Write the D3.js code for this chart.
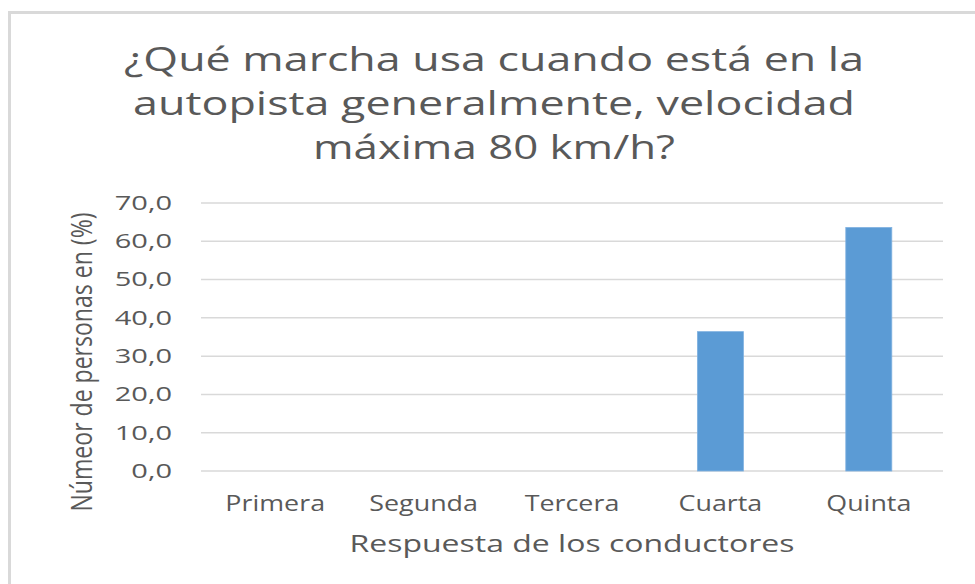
<!DOCTYPE html>
<html>
<head>
<meta charset="utf-8">
<script src="https://cdn.jsdelivr.net/npm/d3@7"></script>
<style>
  body { margin: 0; background: #fff; }
  text { font-family: "Open Sans", sans-serif; fill: #595959; }
</style>
</head>
<body>
<div class="chart"></div>
<script>
// data
var categories = ["Primera", "Segunda", "Tercera", "Cuarta", "Quinta"];
var values = [0, 0, 0, 36.4, 63.6];
var yTicks = [0, 10, 20, 30, 40, 50, 60, 70];
var titleLines = ["¿Qué marcha usa cuando está en la", "autopista generalmente, velocidad", "máxima 80 km/h?"];

var svgWidth = 975;
var svgHeight = 584;

var margin = { top: 203, right: 32, bottom: 113, left: 201 };
var width = svgWidth - margin.left - margin.right;
var height = svgHeight - margin.top - margin.bottom;

var svg = d3.select(".chart")
  .append("svg")
  .attr("width", svgWidth)
  .attr("height", svgHeight);

// chart frame
svg.append("rect")
  .attr("x", 9.5)
  .attr("y", 12.5)
  .attr("width", 1000)
  .attr("height", 700)
  .attr("fill", "none")
  .attr("stroke", "#d9d9d9")
  .attr("stroke-width", 3);

var chartGroup = svg.append("g")
  .attr("transform", `translate(${margin.left}, ${margin.top})`);

var xScale = d3.scaleBand()
  .domain(categories)
  .range([0, width])
  .paddingInner(0.69)
  .paddingOuter(0.345);

var yScale = d3.scaleLinear()
  .domain([0, 70])
  .range([height, 0]);

// stretch text sideways a bit, the original font is wider
function widen(sel, k) {
  sel.each(function() {
    var len = this.getComputedTextLength();
    d3.select(this)
      .attr("textLength", len * k)
      .attr("lengthAdjust", "spacingAndGlyphs");
  });
}

// gridlines
chartGroup.append("g")
  .selectAll("line")
  .data(yTicks)
  .enter()
  .append("line")
  .attr("x1", 0)
  .attr("x2", width)
  .attr("y1", d => yScale(d))
  .attr("y2", d => yScale(d))
  .attr("stroke", "#d9d9d9")
  .attr("stroke-width", 1.5);

// y axis labels
var leftAxis = d3.axisLeft(yScale)
  .tickValues(yTicks)
  .tickSize(0)
  .tickPadding(29)
  .tickFormat(d => d3.format(".1f")(d).replace(".", ","));

var yAxis = chartGroup.append("g").call(leftAxis);
yAxis.select(".domain").remove();
yAxis.selectAll("text").attr("font-size", 20);
widen(yAxis.selectAll("text"), 1.45);

// bars
chartGroup.selectAll("rect")
  .data(values)
  .enter()
  .append("rect")
  .attr("x", (d, i) => xScale(categories[i]))
  .attr("y", d => yScale(d))
  .attr("width", xScale.bandwidth())
  .attr("height", d => height - yScale(d))
  .attr("fill", "#5b9bd5")
  .attr("stroke", "#7fb1e0")
  .attr("stroke-width", 0.8);

// x axis labels
var bottomAxis = d3.axisBottom(xScale).tickSize(0).tickPadding(24);
var xAxis = chartGroup.append("g")
  .attr("transform", `translate(0, ${height})`)
  .call(bottomAxis);
xAxis.select(".domain").remove();
xAxis.selectAll("text").attr("font-size", 22);
widen(xAxis.selectAll("text"), 1.22);

// axis titles
chartGroup.append("text")
  .attr("x", width / 2)
  .attr("y", height + 81)
  .attr("text-anchor", "middle")
  .attr("font-size", 24)
  .attr("textLength", 445)
  .attr("lengthAdjust", "spacingAndGlyphs")
  .text("Respuesta de los conductores");

chartGroup.append("text")
  .attr("transform", "rotate(-90)")
  .attr("x", -(height / 2) - 25)
  .attr("y", 92 - margin.left)
  .attr("text-anchor", "middle")
  .attr("font-size", 30)
  .attr("textLength", 299)
  .attr("lengthAdjust", "spacingAndGlyphs")
  .text("Númeor de personas en (%)");

// title
var titleWidths = [740, 722, 362];
svg.append("g")
  .selectAll("text")
  .data(titleLines)
  .enter()
  .append("text")
  .attr("x", 494)
  .attr("y", (d, i) => 71 + i * 44)
  .attr("text-anchor", "middle")
  .attr("font-size", 32)
  .attr("textLength", (d, i) => titleWidths[i])
  .attr("lengthAdjust", "spacingAndGlyphs")
  .text(d => d);
</script>
</body>
</html>
